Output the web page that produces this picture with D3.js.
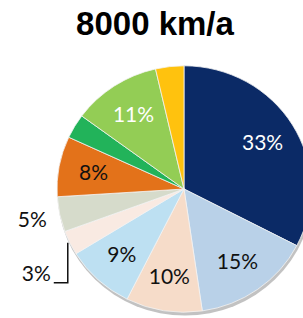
<!DOCTYPE html>
<html>
<head>
<meta charset="utf-8">
<script src="https://cdn.jsdelivr.net/npm/d3@7"></script>
<style>
  body { margin: 0; background: #fff; }
  svg { display: block; }
</style>
</head>
<body>
<div id="chart"></div>
<script>
// Shares, clockwise from 12 o'clock
var categories = ["a", "b", "c", "d", "e", "f", "g", "h", "i", "j"];
var values = [32.6, 15.1, 9.7, 8.8, 3.2, 4.6, 7.9, 3.2, 11.3, 3.6];
var labels = ["33%", "15%", "10%", "9%", "3%", "5%", "8%", "", "11%", ""];
var colors = ["#0b2a66", "#b9d1e8", "#f6dcc9", "#bde0f2", "#f9eae2",
              "#d6dbcb", "#e3721a", "#22b35a", "#93cd55", "#ffc20e"];
var labelColors = ["#fff", "#111", "#111", "#111", "#111", "#111", "#111", "#111", "#fff", "#111"];
var title = "8000 km/a";

var w = 303, h = 318;
var cx = 184, cy = 189, r = 127, sy = 0.97;

var svg = d3.select("#chart").append("svg")
    .attr("width", w)
    .attr("height", h);

svg.append("text")
    .attr("x", 155)
    .attr("y", 35)
    .attr("text-anchor", "middle")
    .style("font-family", "'Liberation Sans', Arial, sans-serif")
    .style("font-weight", "bold")
    .style("font-size", "33px")
    .text(title);

var pie = d3.pie().sort(null).value(d => d);
var arcs = pie(values);
var arc = d3.arc().innerRadius(0).outerRadius(r);

var g = svg.append("g")
    .attr("transform", `translate(${cx},${cy}) scale(1,${sy})`);

// soft shadow under the pie
g.append("circle")
    .attr("cx", 1)
    .attr("cy", 3)
    .attr("r", r + 0.5)
    .attr("fill", "#9a9a9a")
    .attr("opacity", 0.6);

g.selectAll(".slice")
    .data(arcs)
    .enter().append("path")
    .attr("class", "slice")
    .attr("d", arc)
    .attr("fill", (d, i) => colors[i])
    .attr("stroke", "#f4f4f4")
    .attr("stroke-width", 0.8);

var labelArc = d3.arc().innerRadius(92).outerRadius(92);
var outerArc = d3.arc().innerRadius(155).outerRadius(155);

var font = "Lato, 'Open Sans', sans-serif";

// labels inside the slices
arcs.forEach(function (d, i) {
    if (!labels[i] || values[i] < 4) return;
    var p = values[i] < 6 ? outerArc.centroid(d) : labelArc.centroid(d);
    svg.append("text")
        .attr("x", cx + p[0])
        .attr("y", cy + p[1] * sy)
        .attr("dy", "0.35em")
        .attr("text-anchor", "middle")
        .style("font-family", font)
        .style("font-size", "21px")
        .attr("fill", values[i] < 6 ? "#111" : labelColors[i])
        .text(labels[i]);
});

// small slice label with a leader line
var small = arcs[4];
var mid = (small.startAngle + small.endAngle) / 2;
var ex = cx + Math.sin(mid) * r - 2;
var ey = cy - Math.cos(mid) * r * sy;
svg.append("path")
    .attr("d", `M${ex},${ey}V${ey + 40}H${ex - 14}`)
    .attr("fill", "none")
    .attr("stroke", "#111")
    .attr("stroke-width", 1.5);
svg.append("text")
    .attr("x", ex - 17)
    .attr("y", ey + 31)
    .attr("dy", "0.35em")
    .attr("text-anchor", "end")
    .style("font-family", font)
    .style("font-size", "21px")
    .attr("fill", "#111")
    .text(labels[4]);
</script>
</body>
</html>
